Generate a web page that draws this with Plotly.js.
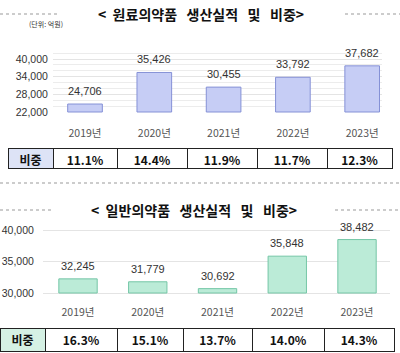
<!DOCTYPE html>
<html>
<head>
<meta charset="utf-8">
<script src="https://cdn.plot.ly/plotly-3.0.1.min.js"></script>
<style>
  html, body { margin: 0; padding: 0; background: #fff; }
  #chart { width: 400px; height: 353px; }
</style>
</head>
<body>
<div id="chart"></div>
<script>
// ---- data ----
const years = ['2019년', '2020년', '2021년', '2022년', '2023년'];
const apiValues = [24706, 35426, 30455, 33792, 37682];      // 원료의약품 생산실적 (억원)
const apiShares = ['11.1%', '14.4%', '11.9%', '11.7%', '12.3%'];
const otcValues = [32245, 31779, 30692, 35848, 38482];      // 일반의약품 생산실적 (억원)
const otcShares = ['16.3%', '15.1%', '13.7%', '14.0%', '14.3%'];
const shareLabel = '비중';
const title1 = '<\u00a0\u00a0원료의약품\u00a0\u00a0\u00a0생산실적\u00a0\u00a0\u00a0및\u00a0\u00a0\u00a0비중>';
const title2 = '<\u00a0\u00a0일반의약품\u00a0\u00a0\u00a0생산실적\u00a0\u00a0\u00a0및\u00a0\u00a0\u00a0비중>';
const unitLabel = '(단위: 억원)';

// ---- layout helpers ----
const W = 400, H = 353;
const px = x => x / W;
const py = y => 1 - y / H;
const KR = '"Noto Sans CJK KR", "Noto Sans", sans-serif';
const NUM = '"Liberation Sans", Arial, sans-serif';

const apiBase = 22000, otcBase = 30000;

const traces = [
  {
    type: 'bar', x: years, y: apiValues.map(v => v - apiBase), base: apiBase,
    xaxis: 'x', yaxis: 'y', width: 0.5,
    marker: { color: '#c6cdf5', line: { color: '#8591d6', width: 1 } },
    hoverinfo: 'skip'
  },
  {
    type: 'bar', x: years, y: otcValues.map(v => v - otcBase), base: otcBase,
    xaxis: 'x2', yaxis: 'y2', width: 0.55,
    marker: { color: '#bbebd7', line: { color: '#74c6a6', width: 1 } },
    hoverinfo: 'skip'
  },
  {
    type: 'table',
    domain: { x: [px(8), px(392)], y: [py(170), py(148)] },
    columnwidth: [45, 64, 70, 70, 70, 65],
    header: {
      values: [shareLabel].concat(apiShares).map(v => [v]),
      height: 20,
      align: 'center',
      fill: { color: ['#dde3f6', '#fff', '#fff', '#fff', '#fff', '#fff'] },
      line: { color: '#222', width: 1 },
      font: { family: KR, size: 12, color: '#111', weight: 'bold' }
    },
    cells: { values: [[], [], [], [], [], []], height: 0, line: { width: 0 } }
  },
  {
    type: 'table',
    domain: { x: [px(0), px(394)], y: [py(353), py(328)] },
    columnwidth: [45, 72, 66, 69, 72, 70],
    header: {
      values: [shareLabel].concat(otcShares).map(v => [v]),
      height: 23,
      align: 'center',
      fill: { color: ['#d5f1e4', '#fff', '#fff', '#fff', '#fff', '#fff'] },
      line: { color: '#222', width: 1 },
      font: { family: KR, size: 12, color: '#111', weight: 'bold' }
    },
    cells: { values: [[], [], [], [], [], []], height: 0, line: { width: 0 } }
  }
];

const valueAnn = (xs, ys, xa, ya) => xs.map((x, i) => ({
  x: x, y: ys[i], xref: xa, yref: ya, text: ys[i].toLocaleString('en-US'),
  showarrow: false, yanchor: 'bottom', yshift: 5,
  font: { family: NUM, size: 11, color: '#333' }
}));

const layout = {
  width: W, height: H,
  margin: { l: 0, r: 0, t: 0, b: 0 },
  paper_bgcolor: '#fff', plot_bgcolor: 'rgba(0,0,0,0)',
  showlegend: false,
  bargap: 0.5,
  xaxis: {
    domain: [px(53), px(382)], range: [-0.462, 4.286], anchor: 'y',
    type: 'category', showgrid: false, zeroline: false, showline: false,
    ticks: 'outside', ticklen: 10, tickcolor: 'rgba(0,0,0,0)',
    tickfont: { family: KR, size: 10.5, color: '#555' }
  },
  yaxis: {
    domain: [py(113), py(50)], range: [21660, 43058], anchor: 'x',
    tickmode: 'linear', tick0: 22000, dtick: 6000, tickformat: ',d',
    showgrid: true, gridcolor: '#e4e4e4', gridwidth: 1, zeroline: false, showline: false,
    minor: { dtick: 2000, tick0: 22000, showgrid: true, gridcolor: '#ececec', gridwidth: 1 },
    ticks: 'outside', ticklen: 2, tickcolor: 'rgba(0,0,0,0)',
    tickfont: { family: NUM, size: 10.5, color: '#333' }
  },
  xaxis2: {
    domain: [px(43), px(390)], range: [-0.502, 4.473], anchor: 'y2',
    type: 'category', showgrid: false, zeroline: false, showline: false,
    ticks: 'outside', ticklen: 7, tickcolor: 'rgba(0,0,0,0)',
    tickfont: { family: KR, size: 10.5, color: '#555' }
  },
  yaxis2: {
    domain: [py(295), py(220)], range: [29683, 41587], anchor: 'x2',
    tickmode: 'linear', tick0: 30000, dtick: 5000, tickformat: ',d',
    showgrid: true, gridcolor: '#e4e4e4', gridwidth: 1, zeroline: false, showline: false,
    ticks: 'outside', ticklen: 6, tickcolor: 'rgba(0,0,0,0)',
    tickfont: { family: NUM, size: 10.5, color: '#333' }
  },
  annotations: [
    { x: px(201), y: py(14), xref: 'paper', yref: 'paper', text: title1, showarrow: false,
      xanchor: 'center', yanchor: 'middle', font: { family: KR, size: 14, color: '#111', weight: 'bold' } },
    { x: px(27), y: py(24), xref: 'paper', yref: 'paper', text: unitLabel, showarrow: false,
      xanchor: 'left', yanchor: 'middle', font: { family: KR, size: 7, color: '#333' } },
    { x: px(194), y: py(210), xref: 'paper', yref: 'paper', text: title2, showarrow: false,
      xanchor: 'center', yanchor: 'middle', font: { family: KR, size: 14, color: '#111', weight: 'bold' } }
  ].concat(valueAnn(years, apiValues, 'x', 'y'))
   .concat(valueAnn(years, otcValues, 'x2', 'y2')),
  shapes: [
    { type: 'line', xref: 'paper', yref: 'paper', x0: 0, x1: px(57), y0: py(14), y1: py(14),
      line: { color: '#999', width: 1, dash: 'dot' } },
    { type: 'line', xref: 'paper', yref: 'paper', x0: px(345), x1: 1, y0: py(14), y1: py(14),
      line: { color: '#999', width: 1, dash: 'dot' } },
    { type: 'line', xref: 'paper', yref: 'paper', x0: 0, x1: 1, y0: py(183), y1: py(183),
      line: { color: '#999', width: 1, dash: 'dot' } },
    { type: 'line', xref: 'paper', yref: 'paper', x0: 0, x1: px(53), y0: py(210), y1: py(210),
      line: { color: '#999', width: 1, dash: 'dot' } },
    { type: 'line', xref: 'paper', yref: 'paper', x0: px(335), x1: 1, y0: py(210), y1: py(210),
      line: { color: '#999', width: 1, dash: 'dot' } }
  ]
};

Plotly.newPlot('chart', traces, layout, { displayModeBar: false, staticPlot: true });
</script>
</body>
</html>
